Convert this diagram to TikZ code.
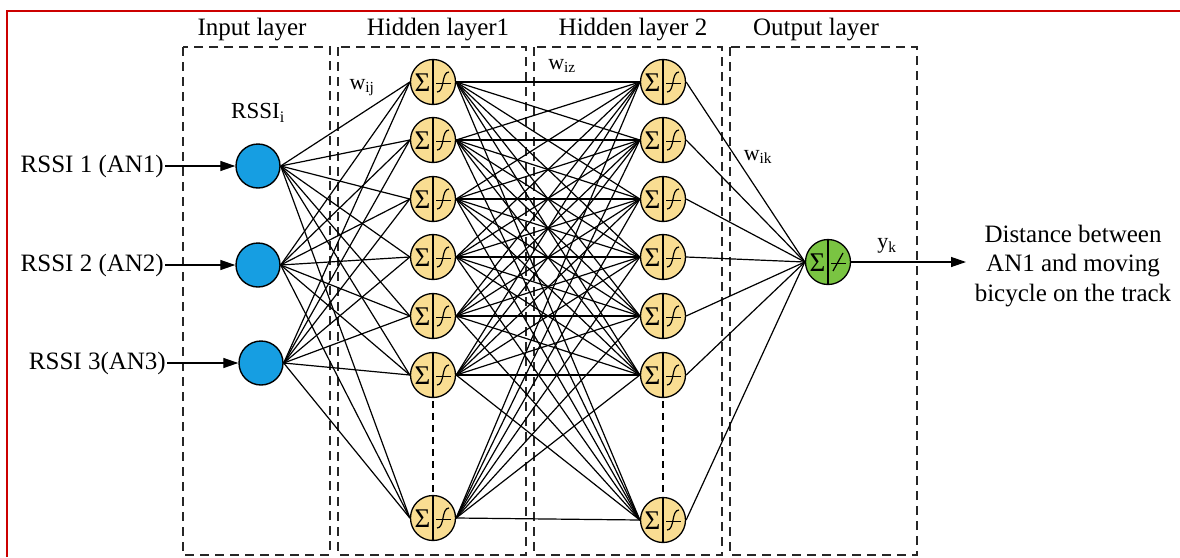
\documentclass[tikz,border=0pt]{standalone}
\usepackage{fontspec}
\setmainfont{Liberation Serif}
\usetikzlibrary{arrows.meta}
\definecolor{hidfill}{RGB}{249,221,146}
\definecolor{infill}{RGB}{22,158,226}
\definecolor{outfill}{RGB}{122,196,66}
\definecolor{framered}{RGB}{204,0,0}
\begin{document}
\begin{tikzpicture}[x=1pt,y=-1pt,
  txt/.style={font=\fontsize{25}{30}\selectfont, inner sep=1pt},
  wlab/.style={font=\fontsize{22}{26}\selectfont, inner sep=0pt},
  layerbox/.style={draw=black!85, line width=1.5pt, dash pattern=on 9pt off 6pt},
  conn/.style={line width=1.2pt},
  arr/.style={line width=1.3pt, -{Triangle[length=15pt,width=10pt]}},
  inp/.style={circle, draw, line width=1.4pt, fill=infill, minimum size=44pt, inner sep=0pt},
  sigma/.style={inner sep=0pt, font=\fontsize{27}{27}\selectfont},
  neur/.style={circle, draw, line width=1.3pt, minimum size=45pt, inner sep=0pt, fill=hidfill,
    path picture={
      \begin{scope}[shift={(path picture bounding box.center)}]
        \draw[line width=1.3pt] (0,-23) -- (0,23);
        \node[sigma] at (-10.5,0.5) {Σ};
        \draw[line width=1pt] (3,1) -- (18,1);
        \draw[line width=1.2pt] (4,10) .. controls (12,10) and (8,-10) .. (16,-10);
      \end{scope}}},
  outn/.style={circle, draw, line width=1.3pt, minimum size=45pt, inner sep=0pt, fill=outfill,
    path picture={
      \begin{scope}[shift={(path picture bounding box.center)}]
        \draw[line width=1.3pt] (0,-23) -- (0,23);
        \node[sigma] at (-10.5,0.5) {Σ};
        \draw[line width=1pt] (3,1) -- (18,1);
        \draw[line width=1.2pt] (5,9) -- (15,-9);
      \end{scope}}},
  vdots/.style={line width=2.5pt, dash pattern=on 7pt off 5pt, shorten <=3pt, shorten >=3pt}
]
\useasboundingbox (0,0) rectangle (1180,557);
% red frame
\draw[framered, line width=2pt] (7,557) -- (7,11) -- (1180,11);

% layer boxes
\draw[layerbox] (183,47) rectangle (330,555);
\draw[layerbox] (338,47) rectangle (526,555);
\draw[layerbox] (534,47) rectangle (722,555);
\draw[layerbox] (730,47) rectangle (917,555);

% layer titles
\node[txt] (tin) at (252,30) {Input layer};
\node[txt] (th1) at (438,30) {Hidden layer1};
\node[txt] (th2) at (633,30) {Hidden layer 2};
\node[txt] (tout) at (816,30) {Output layer};

% input nodes
\node[inp] (i1) at (258,166) {};
\node[inp] (i2) at (258,265) {};
\node[inp] (i3) at (261,363) {};

% hidden layers
\foreach \y [count=\i] in {82,140,199,257,316,375,518}
  \node[neur] (h\i) at (433,\y) {};
\foreach \y [count=\i] in {82,140,199,257,316,375,520}
  \node[neur] (g\i) at (663,\y) {};

% output node
\node[outn] (o) at (828,262) {};

% connections
\foreach \a in {1,2,3}
  \foreach \b in {1,...,7}
    \draw[conn] (i\a.east) -- (h\b.west);
\foreach \a in {1,...,7}
  \foreach \b in {1,...,7}
    \draw[conn] (h\a.east) -- (g\b.west);
\foreach \a in {1,...,7}
  \draw[conn] (g\a.east) -- (o.west);

% ellipsis dashes
\draw[vdots] (h6.south) -- (h7.north);
\draw[vdots] (g6.south) -- (g7.north);

% inputs
\node[txt, anchor=east] (r1) at (165,166) {RSSI 1 (AN1)};
\node[txt, anchor=east] (r2) at (165,265) {RSSI 2 (AN2)};
\node[txt, anchor=east] (r3) at (167,363) {RSSI 3(AN3)};
\draw[arr] (r1.east) -- (i1.west);
\draw[arr] (r2.east) -- (i2.west);
\draw[arr] (r3.east) -- (i3.west);

\node[txt, font=\fontsize{23}{28}\selectfont] (rssii) at (258,113) {RSSI\textsubscript{i}};

% weight labels
\node[wlab] (wij) at (362,88) {w\textsubscript{ij}};
\node[wlab] (wiz) at (562,66) {w\textsubscript{iz}};
\node[wlab] (wik) at (758,157) {w\textsubscript{ik}};
\node[wlab] (yk) at (887,246) {y\textsubscript{k}};

% output
\coordinate (dst) at (966,262);
\draw[arr] (o.east) -- (dst);
\node[txt, align=center, font=\fontsize{25}{29.5}\selectfont] (dist) at (1073,266)
  {Distance between\\AN1 and moving\\bicycle on the track};
\end{tikzpicture}
\end{document}
